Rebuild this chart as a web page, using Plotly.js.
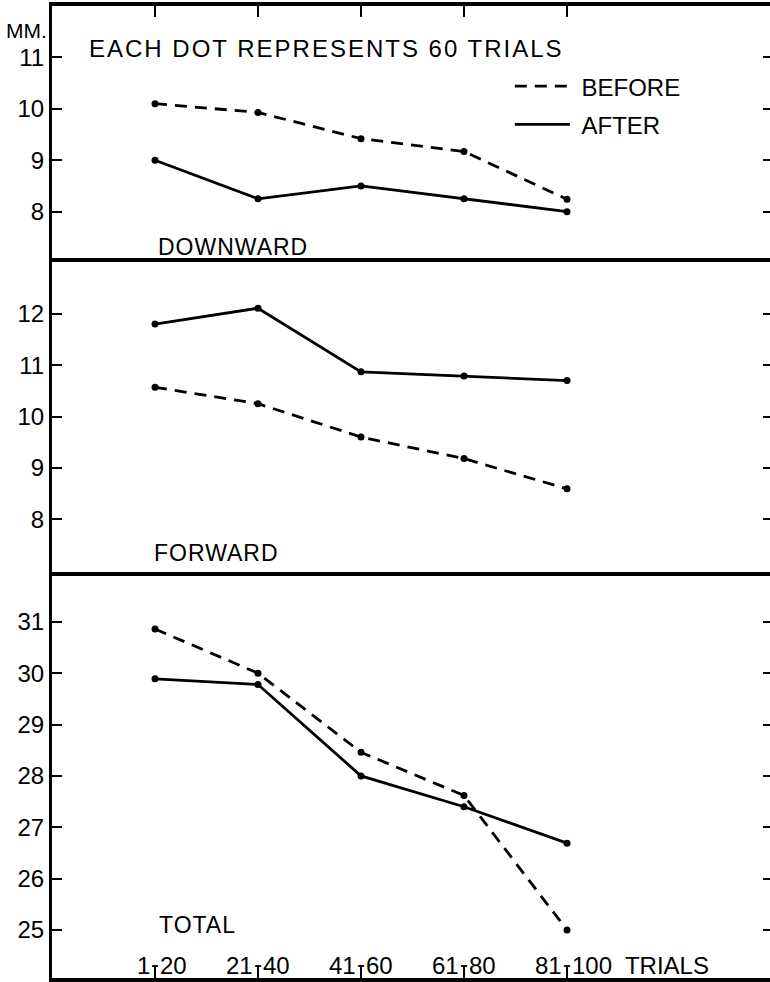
<!DOCTYPE html>
<html>
<head>
<meta charset="utf-8">
<script src="https://cdn.plot.ly/plotly-3.0.1.min.js"></script>
<style>
html,body{margin:0;padding:0;background:#fff;overflow:hidden;width:770px;height:982px;}
#chart{width:774px;height:982px;}
</style>
</head>
<body>
<div id="chart"></div>
<script>
// ---- data ----
const categories = ["1-20", "21-40", "41-60", "61-80", "81-100"];
const seriesNames = ["BEFORE", "AFTER"];
const downBefore = [10.1, 9.93, 9.42, 9.17, 8.24];
const downAfter  = [9.0, 8.25, 8.5, 8.25, 8.0];
const fwdBefore  = [10.57, 10.25, 9.6, 9.18, 8.59];
const fwdAfter   = [11.8, 12.11, 10.87, 10.79, 10.7];
const totBefore  = [30.86, 30.0, 28.46, 27.62, 25.0];
const totAfter   = [29.89, 29.78, 28.0, 27.4, 26.69];
const downTicks = [8, 9, 10, 11];
const fwdTicks  = [8, 9, 10, 11, 12];
const totTicks  = [25, 26, 27, 28, 29, 30, 31];
const panelNames = ["DOWNWARD", "FORWARD", "TOTAL"];
const headerText = "EACH DOT REPRESENTS 60 TRIALS";
const unitText = "MM.";
const xSuffix = "TRIALS";

// ---- styling ----
const FONT = '"Liberation Sans", Arial, sans-serif';
const LW = 2.8;
const DASH = "12px,8px";
const MS = 7;
const NBSP = '\u00a0';

function pair(x, y, xa, ya, dash, name, showLegend, group) {
  return [
    {x: x, y: y, xaxis: xa, yaxis: ya, type: 'scatter', mode: 'lines',
     line: {color: '#000', width: LW, dash: dash}, name: NBSP + name,
     showlegend: showLegend, legendgroup: group, hoverinfo: 'skip'},
    {x: x, y: y, xaxis: xa, yaxis: ya, type: 'scatter', mode: 'markers',
     marker: {color: '#000', size: MS}, name: name,
     showlegend: false, legendgroup: group, hoverinfo: 'skip'}
  ];
}

const traces = [].concat(
  pair(categories, downBefore, 'x', 'y', DASH, seriesNames[0], true, 'b'),
  pair(categories, downAfter, 'x', 'y', 'solid', seriesNames[1], true, 'a'),
  pair(categories, fwdBefore, 'x2', 'y2', DASH, seriesNames[0], false, 'b'),
  pair(categories, fwdAfter, 'x2', 'y2', 'solid', seriesNames[1], false, 'a'),
  pair(categories, totBefore, 'x3', 'y3', DASH, seriesNames[0], false, 'b'),
  pair(categories, totAfter, 'x3', 'y3', 'solid', seriesNames[1], false, 'a')
);

// panel boundaries (paper fractions)
const d3 = [0, 0.4182];
const d2 = [0.4182, 0.7366];
const d1 = [0.7366, 1];
const XR = [-1, 6];

function xax(anchor, side, ticks, ticklen, mirror) {
  return {
    anchor: anchor, domain: [0, 1], type: 'category',
    categoryorder: 'array', categoryarray: categories,
    range: XR, side: side,
    showline: true, linewidth: 4, linecolor: '#000', mirror: mirror,
    ticks: ticks, ticklen: ticklen, tickwidth: 2, tickcolor: '#000',
    tickvals: categories, showticklabels: false,
    showgrid: false, zeroline: false, fixedrange: true
  };
}
function yax(anchor, domain, range, tickvals) {
  return {
    anchor: anchor, domain: domain, range: range,
    showline: true, linewidth: 3, linecolor: '#000', mirror: 'ticks',
    ticks: 'inside', ticklen: 10, tickwidth: 2, tickcolor: '#000',
    tickvals: tickvals, ticktext: tickvals.map(String),
    tickfont: {family: FONT, size: 24, color: '#000'},
    ticklabelstandoff: 0,
    showgrid: false, zeroline: false, fixedrange: true
  };
}

const annotations = [];
annotations.push({xref: 'paper', yref: 'paper', x: -0.067, y: 0.9743,
  xanchor: 'left', yanchor: 'middle', showarrow: false, text: unitText,
  font: {family: FONT, size: 21, color: '#000'}});
annotations.push({xref: 'paper', yref: 'paper', x: 0.049, y: 0.9558,
  xanchor: 'left', yanchor: 'middle', showarrow: false,
  text: '<span style="letter-spacing:2px">' + headerText + '</span>',
  font: {family: FONT, size: 24, color: '#000'}});
const panelPos = [[0.1445, 0.752], [0.139, 0.4372], [0.146, 0.0545]];
panelNames.forEach(function (t, i) {
  annotations.push({xref: 'paper', yref: 'paper', x: panelPos[i][0], y: panelPos[i][1],
    xanchor: 'left', yanchor: 'middle', showarrow: false,
    text: '<span style="letter-spacing:1px">' + t + '</span>',
    font: {family: FONT, size: 23, color: '#000'}});
});
categories.forEach(function (c, i) {
  const parts = c.split('-');
  const right = (i === categories.length - 1) ? parts[1] + '  ' + xSuffix : parts[1];
  const base = {xref: 'x3', yref: 'paper', x: c, y: 0, yanchor: 'bottom',
    showarrow: false, yshift: -3, font: {family: FONT, size: 24, color: '#000'}};
  annotations.push(Object.assign({}, base, {text: parts[0], xanchor: 'right', xshift: -3}));
  annotations.push(Object.assign({}, base, {text: '-', xanchor: 'center', xshift: 0, yshift: -1}));
  annotations.push(Object.assign({}, base, {text: right, xanchor: 'left', xshift: 3}));
});

const layout = {
  width: 774, height: 982,
  margin: {l: 52, r: 1, t: 6, b: 4},
  paper_bgcolor: '#fff', plot_bgcolor: '#fff',
  font: {family: FONT, color: '#000'},
  xaxis: xax('y', 'top', 'inside', 11, false),
  xaxis2: xax('y2', 'bottom', '', 0, true),
  xaxis3: xax('y3', 'bottom', 'inside', 12, false),
  yaxis: yax('x', d1, [7.02, 12.0], downTicks),
  yaxis2: yax('x2', d2, [6.98, 13.01], fwdTicks),
  yaxis3: yax('x3', d3, [24.065, 31.98], totTicks),
  showlegend: true,
  legend: {x: 0.635, y: 0.9403, xanchor: 'left', yanchor: 'top',
    xref: 'paper', yref: 'paper',
    font: {family: FONT, size: 24, color: '#000'},
    itemwidth: 55, traceorder: 'grouped', tracegroupgap: 4,
    bgcolor: 'rgba(0,0,0,0)', borderwidth: 0},
  annotations: annotations
};

Plotly.newPlot('chart', traces, layout, {staticPlot: true, displayModeBar: false});
</script>
</body>
</html>
